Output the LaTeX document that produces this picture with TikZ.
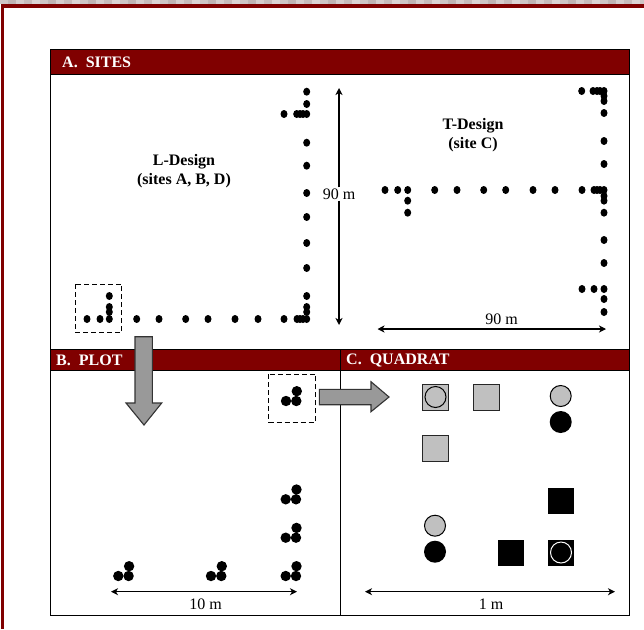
\documentclass[tikz,border=0pt]{standalone}
\usepackage{fontspec}
\setmainfont{Liberation Serif}
\usepackage{xcolor}
\usetikzlibrary{calc, arrows.meta}
\definecolor{panelred}{HTML}{800000}
\definecolor{stripbase}{HTML}{A89898}
\definecolor{arrowgray}{HTML}{999999}
\definecolor{lightgray}{HTML}{C0C0C0}
\tikzset{
    headertext/.style={text=white, font=\fontsize{16}{18}\selectfont\bfseries, anchor=west, inner sep=0pt},
    labeltext/.style={font=\fontsize{16}{18}\selectfont, inner sep=1pt},
    designtext/.style={font=\fontsize{16}{19}\selectfont\bfseries, align=center, inner sep=0pt},
    sitedot/.style={fill=black},
    paneline/.style={line width=0.9pt},
    dimline/.style={<->, line width=1.2pt},
    dashbox/.style={draw, line width=1.1pt, dash pattern=on 5pt off 3pt},
    bigarrow/.style={draw=black!80, line width=1.1pt, fill=arrowgray, line join=miter},
    graysq/.style={draw=black!85, line width=1pt, fill=lightgray, minimum size=26pt, inner sep=0pt},
    blacksq/.style={fill=black, minimum size=26pt, inner sep=0pt},
    graycirc/.style={circle, draw=black, line width=1pt, fill=lightgray, minimum size=21pt, inner sep=0pt},
    blackcirc/.style={circle, fill=black, minimum size=22pt, inner sep=0pt},
    opencirc/.style={circle, draw=black, line width=1pt, minimum size=21pt, inner sep=0pt},
    whitecirc/.style={circle, draw=white, line width=1pt, minimum size=21pt, inner sep=0pt},
}
\begin{document}
\begin{tikzpicture}[x=1pt, y=-1pt, >={Stealth[length=7pt, width=7pt, inset=2pt]}]
    \useasboundingbox (0,0) rectangle (644,629);
    \fill[white] (0,0) rectangle (644,629);
    % mottled top strip and page frame
    \foreach \x [count=\i] in {0,8,...,640} {
        \pgfmathtruncatemacro{\tint}{mod(\i*7,5)*8+40}
        \fill[stripbase!\tint!white] (\x,0) rectangle ++(8,4.3);
    }
    \fill[panelred] (1,4.3) rectangle (644,7.6);
    \fill[panelred] (1,4.3) rectangle (3.8,629);
    % panel headers
    \fill[panelred] (50.7,49) rectangle (629,74);
    \fill[panelred] (50.7,349) rectangle (629,370);
    \draw[paneline] (50.7,49) rectangle (629,615);
    \draw[paneline] (50.7,74) -- (629,74);
    \draw[paneline] (50.7,349) -- (629,349);
    \draw[paneline] (50.7,370) -- (629,370);
    \draw[paneline] (340,349) -- (340,615);
    \node[headertext] (headA) at (62,62.5) {A.\ \ SITES};
    \node[headertext] (headB) at (56,360) {B.\ \ PLOT};
    \node[headertext] (headC) at (346,360) {C.\ \ QUADRAT};
    % L design
    \foreach \x/\y in {87/319, 100/319, 109.3/319, 109.3/312, 109.3/307, 109.3/296,
        136.7/319, 159/319, 185.7/319, 208/319, 235/319, 258/319, 284/319,
        297/319, 300/319, 303/319, 306.7/319, 306.7/312, 306.7/307, 306.7/296,
        306.7/268, 306.7/243, 306.7/217, 306.7/193, 306.7/165.7, 306.7/142.7,
        306.7/114, 306.7/104, 306.7/91.7, 303/114, 300/114, 296.7/114, 284/114}
        \fill[sitedot] (\x,\y) ellipse (3.5 and 4);
    % T design
    \foreach \x/\y in {385/190, 397.7/190, 407.7/190, 407.7/200.7, 407.7/212.7,
        434.7/190, 457/190, 483.7/190, 505.7/190, 533/190, 555/190, 582/190,
        594/190, 597/190, 600/190, 604/190, 604/196, 604/200.7, 604/212.7,
        604/240, 604/263, 604/289, 604/299, 604/312, 594/289, 582/289,
        581.7/91, 593/91, 597/91, 600/91, 604/91, 604/96, 604/101, 604/113,
        604/141, 604/164}
        \fill[sitedot] (\x,\y) ellipse (3.5 and 4);
    % plots
    \foreach \x/\y in {118.3/576, 211/576, 285.7/576, 285.7/537.7, 285.7/499.3, 286/401} {
        \fill[sitedot] (\x,\y) circle (5.2);
        \fill[sitedot] (\x+10.3,\y) circle (5.2);
        \fill[sitedot] (\x+10.8,\y-9.8) circle (5.2);
    }
    \draw[dashbox] (75.7,284.3) rectangle (121.7,332.7);
    \draw[dashbox] (268.7,374.3) rectangle (315.7,422.3);
    % big arrows
    \draw[bigarrow] (135,336.7) -- (152.3,336.7) -- (152.3,403) -- (161.7,403) -- (144,425)
        -- (126,403) -- (135,403) -- cycle;
    \draw[bigarrow] (319.3,389.3) -- (371,389.3) -- (371,381.7) -- (389,397) -- (371,411.7)
        -- (371,404.7) -- (319.3,404.7) -- cycle;
    % labels
    \node[designtext] (ldesign) at (184,171) {L-Design\\(sites A, B, D)};
    \node[designtext] (tdesign) at (473,135) {T-Design\\(site C)};
    \node[labeltext] (sideV) at (339,194) {90 m};
    \node[labeltext] (sideH) at (501.7,319.5) {90 m};
    \node[labeltext] (plotdim) at (205.7,604) {10 m};
    \node[labeltext] (quaddim) at (491,604) {1 m};
    % dimension arrows
    \coordinate (vtop) at (339,88);
    \coordinate (vbot) at (339,325);
    \coordinate (hleft) at (377.5,329);
    \coordinate (hright) at (606,329);
    \coordinate (pleft) at (111,591.7);
    \coordinate (pright) at (297,591.7);
    \coordinate (qleft) at (365,591.7);
    \coordinate (qright) at (615,591.7);
    \draw[->, line width=1.2pt] (sideV) -- (vtop);
    \draw[->, line width=1.2pt] (sideV) -- (vbot);
    \draw[dimline] (hleft) -- (hright);
    \draw[dimline] (pleft) -- (pright);
    \draw[dimline] (qleft) -- (qright);
    % quadrat
    \node[graysq] (sqA) at (435.7,397) {};
    \node[opencirc] (circA) at (435.5,397) {};
    \node[graysq] (sqB) at (486,397) {};
    \node[graysq] (sqC) at (435.7,448.7) {};
    \node[graycirc] (circB) at (560.7,396) {};
    \node[blackcirc] (circC) at (560.7,422) {};
    \node[blacksq] (sqD) at (561,500.5) {};
    \node[graycirc] (circD) at (435,525.7) {};
    \node[blackcirc] (circE) at (435,551.7) {};
    \node[blacksq] (sqE) at (510.7,552.5) {};
    \node[blacksq] (sqF) at (561,552.5) {};
    \node[whitecirc] (circF) at (561,552.5) {};
\end{tikzpicture}
\end{document}
